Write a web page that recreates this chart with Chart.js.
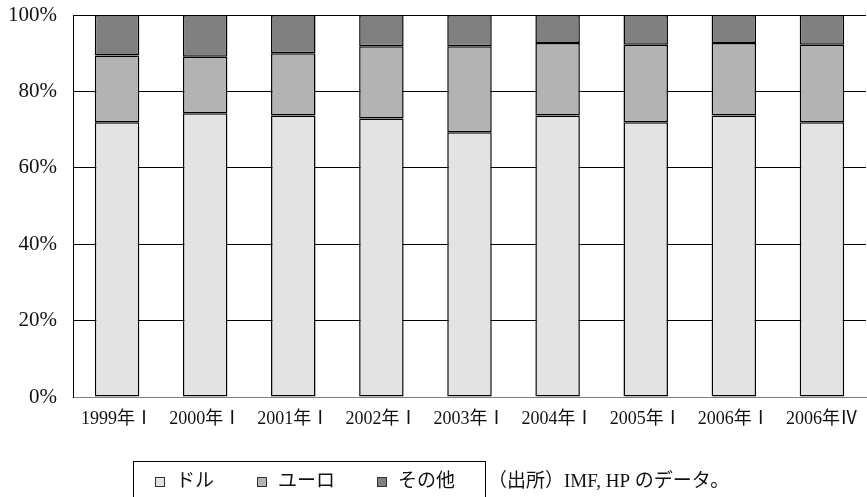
<!DOCTYPE html>
<html>
<head>
<meta charset="utf-8">
<script src="https://cdn.jsdelivr.net/npm/chart.js@4/dist/chart.umd.min.js"></script>
<style>
  html, body { margin: 0; padding: 0; background: #fff; }
  canvas { display: block; }
</style>
</head>
<body>
<canvas id="c" width="867" height="497"></canvas>
<script>
// 外貨準備の通貨別構成比（%）
const categories = ['1999年Ⅰ', '2000年Ⅰ', '2001年Ⅰ', '2002年Ⅰ', '2003年Ⅰ', '2004年Ⅰ', '2005年Ⅰ', '2006年Ⅰ', '2006年Ⅳ'];
const dollarShare = [71.9, 74.3, 73.7, 72.9, 69.3, 73.7, 71.9, 73.7, 71.9];
const euroShare   = [17.5, 14.8, 16.3, 18.9, 22.5, 19.0, 20.3, 19.0, 20.3];
const otherShare  = [10.6, 10.9, 10.0,  8.2,  8.2,  7.3,  7.8,  7.3,  7.8];
const seriesNames = ['ドル', 'ユーロ', 'その他'];
const yTicks = [0, 20, 40, 60, 80, 100];
const sourceNote = '（出所）IMF, HP のデータ。';

const FONT = "'Liberation Serif', 'Noto Sans CJK JP', serif";
const fills = ['#e3e3e3', '#b3b3b3', '#808080'];

function barSet(label, data, color) {
  return {
    label, data,
    backgroundColor: color,
    borderColor: '#000',
    borderWidth: 1.5,
    borderSkipped: false,
    inflateAmount: 0,
    barPercentage: 0.505,
    categoryPercentage: 1
  };
}

// 凡例の枠と出所の注記をキャンバス下部に描く
const legendBox = {
  id: 'legendBox',
  afterDraw(chart) {
    const ctx = chart.ctx;
    ctx.save();
    ctx.strokeStyle = '#000';
    ctx.lineWidth = 1;
    ctx.strokeRect(133.5, 461.5, 352, 40);
    ctx.font = '19px ' + FONT;
    ctx.textBaseline = 'middle';
    const xs = [155, 257, 377];
    chart.data.datasets.forEach((ds, i) => {
      const x = xs[i];
      ctx.fillStyle = ds.backgroundColor;
      ctx.fillRect(x + 0.5, 477.5, 9, 9);
      ctx.strokeStyle = '#333';
      ctx.strokeRect(x + 0.5, 477.5, 9, 9);
      ctx.fillStyle = '#111';
      ctx.fillText(ds.label, x + 21, 482);
    });
    ctx.fillText(sourceNote, 488, 482);
    ctx.restore();
  }
};

new Chart(document.getElementById('c'), {
  type: 'bar',
  data: {
    labels: categories,
    datasets: [
      barSet(seriesNames[0], dollarShare, fills[0]),
      barSet(seriesNames[1], euroShare, fills[1]),
      barSet(seriesNames[2], otherShare, fills[2])
    ]
  },
  options: {
    responsive: false,
    animation: false,
    layout: { padding: { top: 15, right: 1, left: 0, bottom: 0 } },
    plugins: { legend: { display: false }, tooltip: { enabled: false } },
    scales: {
      x: {
        stacked: true,
        grid: { display: false, drawTicks: false },
        border: { display: true, color: '#808080', width: 1 },
        ticks: { color: '#111', font: { family: FONT, size: 18 }, padding: 11, maxRotation: 0, autoSkip: false },
        afterFit(scale) { scale.height = 100; scale.paddingLeft = 0; scale.paddingRight = 0; }
      },
      y: {
        stacked: true,
        min: 0, max: 100,
        afterBuildTicks(scale) { scale.ticks = yTicks.map(v => ({ value: v })); },
        grid: {
          drawTicks: false,
          color: ctx => (ctx.tick && ctx.tick.value === 0) ? '#808080' : '#000',
          lineWidth: 1
        },
        border: { display: true, color: '#000', width: 1 },
        ticks: {
          color: '#111',
          font: { family: FONT, size: 21 },
          padding: 16,
          callback: v => v + '%'
        },
        afterFit(scale) { scale.width = 73; scale.paddingTop = 0; scale.paddingBottom = 0; }
      }
    }
  },
  plugins: [legendBox]
});
</script>
</body>
</html>
